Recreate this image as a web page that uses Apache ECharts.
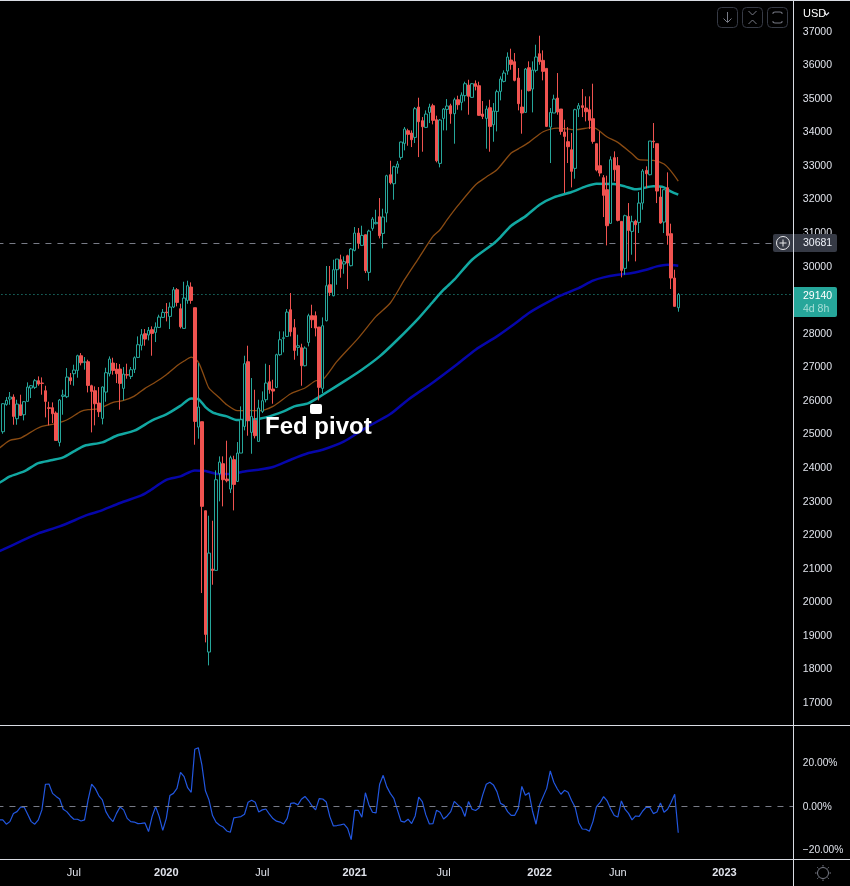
<!DOCTYPE html>
<html>
<head>
<meta charset="utf-8">
<title>Fed pivot</title>
<script src="https://cdn.jsdelivr.net/npm/echarts@6/dist/echarts.min.js"></script>
<style>
html, body { margin: 0; padding: 0; background: #000; }
#container { width: 850px; height: 886px; }
</style>
</head>
<body>
<div id="container"></div>
<script>
// weekly candles
var opens = [25054,25868,26027,26087,25441,25858,25560,25957,26355,26375,26573,26504,26275,25769,25769,25610,24736,26106,26096,26663,26782,26881,27318,27119,27139,26424,26275,25908,25451,26235,
26782,27100,26921,26921,26345,26752,26702,26911,27268,27626,27973,27934,28093,28013,28162,28460,28619,28490,28768,29284,28718,28132,28966,29364,28748,25193,25352,22700,18490,20963,
20923,23803,24101,23644,23346,24220,23574,24418,25213,27139,25034,25391,24766,25660,26007,26543,26325,26375,27348,27834,27894,28688,28152,27566,27556,27020,27715,28510,28510,28172,
26345,28361,29433,29106,29880,30178,30049,30297,30000,30456,30972,30605,30923,29801,31111,31250,31459,30962,31568,32710,32442,32929,33226,33644,34021,33951,33822,34726,34319,34120,
34567,34766,34349,33048,34388,34656,34766,34527,34944,34865,35064,35381,35014,35421,35361,34517,34388,34706,34200,34597,35193,35491,35799,36126,36077,35590,34726,34567,35898,35262,
35819,36315,36116,35878,34130,34548,34994,34667,33981,33694,33455,32899,34667,34766,34696,34647,34379,33634,32979,32621,32264,31261,33217,32979,31320,29920,31469,31022,31330,31290,
31866,32839,32710,33713,33634,32045,31300,32323,30953,29632,28748];
var closes = [25888,25987,26087,25511,25878,25540,25948,26385,26424,26573,26474,26494,25957,25749,25590,24796,25997,26146,26682,26573,26891,27318,27109,27139,26434,26255,25888,25650,26385,26812,
27219,26881,26782,26494,26772,26742,26901,27258,27646,27944,27814,28073,27983,28172,28470,28609,28599,28768,29284,28907,28182,29036,29403,28966,25362,25789,22830,19016,21439,20923,
23624,24150,23624,23594,24279,23485,24418,25411,27080,25391,25511,24935,25759,25977,26504,26305,26265,27348,27795,27854,28619,28033,27477,27616,27020,27546,28510,28390,28142,26375,
28212,29403,29205,29880,30198,29910,30118,30079,30496,30972,30675,30903,29850,31032,31389,31290,30893,31449,32680,32472,32948,33028,33683,34071,33912,33753,34676,34289,34140,34517,
34726,34329,33127,34339,34666,34756,34527,34944,34795,35083,35421,35044,35421,35342,34478,34448,34666,34150,34607,35183,35560,35739,36216,35997,35521,34826,34548,35858,35213,35828,
36216,36077,35789,34150,34567,34965,34577,34001,33852,33545,32810,34647,34766,34716,34587,34329,33703,32849,32760,32095,31191,33157,32859,31350,29860,31489,31052,31310,31221,31866,
32820,32740,33713,33693,32224,31271,32263,30903,29632,28788,29140];
var lows = [24994,25829,25858,25262,25262,25530,25391,25957,26057,26325,26424,26156,25481,25243,25312,24796,24617,25560,26057,26454,26424,26663,27030,26901,26225,25034,25243,25491,25272,25948,
26702,26752,26504,25709,25987,26633,26623,26802,27248,27477,27616,27775,27318,27725,28142,28440,28341,28112,28738,28788,28132,28132,28867,28867,24667,24845,20248,18778,18093,20496,
20923,22979,22830,23545,23227,22710,23555,24418,25094,24935,24398,24855,24766,25610,25928,26186,25888,26355,27318,27417,27874,27894,27199,27318,26424,27000,27596,28142,27894,25987,
26206,28340,29100,29086,29433,29642,29761,29304,29980,30426,30506,30595,29781,29552,31042,31230,30813,30516,31290,32422,31965,32740,33157,33435,33574,33534,33654,33236,33395,34100,
34249,34210,33078,32929,34031,34031,34229,33634,34646,34627,34895,34498,35004,35222,34468,34368,33485,33395,33693,34001,34925,35461,35689,35838,35491,34627,33932,34548,35193,34567,
35759,35987,35521,34130,33058,34548,34498,33902,32164,33058,32333,32591,34428,34428,34299,34071,33634,32810,32661,31449,30605,31251,32512,31320,29652,29731,30129,30327,30129,30973,
31668,32313,32691,33505,31866,31251,30973,30625,29305,28788,28629];
var highs = [25908,26086,26236,26166,26007,26156,25968,26524,26444,26623,26702,26672,26424,25948,25928,25660,26027,26305,26950,26802,27050,27348,27397,27278,27199,26454,26404,26384,26404,26960,
27298,27258,27100,27070,26980,27080,26980,27298,27894,28112,28112,28172,28192,28311,28539,28708,28887,28907,29363,29334,28867,29522,29552,29503,28748,27100,25352,22700,22552,22403,
23902,24319,24319,24786,24339,24339,24746,25809,27318,27616,26653,26305,26007,26255,27080,27040,26603,27378,28043,28043,28708,29185,28410,27944,27675,27596,28569,28837,28638,28172,
28460,29990,29990,30178,30198,30327,30277,30327,30526,31151,31121,31191,30923,31072,31449,31667,32015,31697,32710,33127,32978,33117,33693,34130,34080,34031,34726,35004,34428,34627,
34825,34825,34468,34368,34696,34964,34825,35004,35064,35163,35481,35540,35441,35520,35481,34905,34766,34944,34845,35243,35640,35819,36355,36464,36335,35888,35243,35888,36087,36087,
36583,36851,36414,35878,34696,35094,35739,34667,34349,34130,33952,34677,34845,35262,35044,35044,35421,33634,34001,32700,32681,33257,33406,33237,31320,31519,31866,31489,31370,32194,
32879,32959,33713,34250,33634,32343,32283,32780,31251,29880,29185];

// moving averages, [bar, value] where the curve was read; bar -1 is the week cut by the left edge
var ma50 = [[-1,24560],[0,24647],[2,24796],[5,24865],[9,25113],[11,25213],[14,25272],[17,25362],[19,25461],[22,25660],[24,25709],[27,25739],[31,25928],[34,25987],[37,26116],[40,26345],[43,26533],[46,26752],[49,27020],[51,27159],[53,27278],[55,27129],[57,26603],[58,26355],[61,26057],[63,25858],[66,25680],[69,25689],[72,25680],[76,25809],[81,26186],[85,26355],[88,26573],[90,26603],[94,27149],[100,27844],[105,28490],[109,28888],[113,29583],[117,30228],[121,30874],[123,31072],[125,31370],[128,31787],[133,32412],[136,32641],[139,32859],[143,33356],[145,33480],[148,33674],[152,33991],[156,34101],[161,34051],[166,34120],[170,33833],[173,33674],[177,33336],[179,33157],[183,33137],[186,33028],[188,32810],[190,32522]];
var ma100 = [[-1,23530],[0,23594],[2,23723],[6,23872],[10,24120],[14,24210],[17,24289],[20,24468],[23,24637],[28,24736],[32,24935],[37,25084],[42,25391],[46,25570],[50,25829],[53,26047],[55,26027],[57,25789],[59,25630],[61,25560],[63,25511],[66,25401],[70,25411],[74,25481],[79,25660],[82,25809],[86,25908],[90,26156],[96,26553],[101,26901],[106,27298],[111,27794],[117,28440],[121,28927],[124,29284],[127,29582],[132,30178],[138,30655],[140,30853],[143,31191],[147,31469],[151,31817],[155,32035],[160,32194],[164,32363],[167,32442],[172,32432],[175,32363],[178,32274],[183,32363],[186,32333],[188,32204],[190,32115]];
var ma200 = [[-1,21490],[0,21539],[5,21787],[10,22026],[16,22233],[24,22582],[27,22680],[33,22930],[39,23157],[41,23276],[46,23620],[50,23723],[54,23902],[57,23882],[60,23803],[64,23793],[68,23872],[72,23922],[76,24001],[81,24220],[86,24418],[90,24518],[96,24766],[102,25163],[109,25580],[114,26007],[121,26523],[128,27080],[133,27497],[139,27894],[144,28271],[148,28589],[152,28838],[157,29116],[162,29334],[166,29553],[169,29652],[173,29731],[177,29781],[181,29880],[184,29980],[187,30029],[190,30000]];

// lower pane, percent
var oscillator = [-6.4,-8.4,-7.2,-3.5,-2.6,-0.5,-0.5,-3.8,-7.2,-8.4,-6.4,-1.8,10.0,10.1,5.8,4.4,3.2,-1.5,-2.6,-4.6,-6.1,-6.1,-6.9,-6.4,2.8,10.0,8.1,4.8,2.8,-2.6,
-5.4,-7.2,-3.4,-0.5,-1.8,-5.7,-7.2,-7.4,-8.1,-8.0,-7.8,-11.8,-4.9,-0.3,-4.9,-11.2,-5.7,4.8,5.8,8.1,15.5,13.5,8.4,6.3,26.1,26.8,18.9,7.0,2.8,-4.4,
-7.5,-8.9,-9.7,-11.5,-12.1,-5.5,-5.2,-4.9,-3.8,1.7,2.6,1.7,-2.8,-1.8,-1.4,-3.8,-5.8,-7.0,-7.4,-8.3,-5.7,1.2,1.4,0.5,3.1,4.4,2.5,0,-1.8,3.4,
3.2,1.8,-4.9,-9.2,-9.0,-8.7,-8.3,-10.3,-15.5,-2.0,-2.0,-5.2,6.1,0.5,-2.9,-3.2,10.0,14.1,8.9,5.8,3.5,-1.8,-7.0,-7.4,-6.1,-8.1,-4.6,4.1,2.0,-4.1,
-8.3,-8.1,-2.0,-2.9,-6.0,-4.6,-2.6,2.1,0.5,-0.8,-4.8,2.0,-1.5,-2.1,-0.8,5.1,10.0,10.9,9.7,6.6,1.2,0.3,-2.6,-4.3,-4.3,-1.1,9.0,4.9,6.1,-2.3,
-8.4,0.5,4.3,8.1,16.1,10.9,7.8,5.4,7.2,6.3,2.5,-0.6,-7.7,-10.6,-10.7,-11.6,-7.2,-0.3,1.5,4.3,2.3,-1.4,-4.4,-5.1,2.3,-1.4,-3.4,-6.4,-4.6,-4.8,
-2.3,-0.5,-0.6,-3.5,-2.8,1.4,-2.9,-1.5,1.7,5.4,-12.3];
var oscillatorLead = -6.4; // week cut by the left edge

var priceTicks = [17000,18000,19000,20000,21000,22000,23000,24000,25000,26000,27000,28000,29000,30000,31000,32000,33000,34000,35000,36000,37000];
var pctTicks = [-20,0,20];
var tickBars = [20,46,73,99,124,151,173,203];
var tickNames = ['Jul','2020','Jul','2021','Jul','2022','Jun','2023'];
var alertPrice = 30681;
var lastPrice = 29140;

var SLOTS = 224; // one hidden week at the left edge, then empty weeks to the right
var LEAD = 1;
var bg = '#000000', up = '#26a69a', down = '#f05350', lineCol = '#d9dce3', textCol = '#e0e3eb', chrome = '#363a45', iconCol = '#787b86';
var font = '"Liberation Sans", Arial, sans-serif';

var categories = [];
var d0 = Date.UTC(2019, 1, 4);
for (var i = 0; i < SLOTS; i++) {
    categories.push(new Date(d0 + i * 7 * 86400000).toISOString().slice(0, 10));
}
var candles = ['-'];
for (var j = 0; j < opens.length; j++) {
    candles.push([opens[j], closes[j], lows[j], highs[j]]);
}

function maSeries(name, data, color, width) {
    return {
        name: name, type: 'line', xAxisIndex: 0, yAxisIndex: 0,
        data: data.map(function (p) { return [p[0] + LEAD, p[1]]; }),
        showSymbol: false, symbol: 'none', z: 2, silent: true, smooth: 0.25,
        lineStyle: { color: color, width: width }
    };
}

var myChart = echarts.init(document.getElementById('container'), null, { renderer: 'canvas' });

var option = {
    animation: false,
    backgroundColor: bg,
    textStyle: { fontFamily: font },
    grid: [
        { left: -2.555, top: 0, width: 796.355, height: 725, outerBoundsMode: 'none' },
        { left: -2.555, top: 726, width: 796.355, height: 133, outerBoundsMode: 'none' }
    ],
    xAxis: [
        { type: 'category', gridIndex: 0, data: categories, axisLine: { show: false }, axisTick: { show: false }, axisLabel: { show: false }, splitLine: { show: false } },
        {
            type: 'category', gridIndex: 1, data: categories, axisLine: { show: false }, axisTick: { show: false }, splitLine: { show: false },
            axisLabel: {
                color: textCol, fontSize: 11, fontFamily: font, margin: 8,
                interval: function (index) { return tickBars.indexOf(index - LEAD) >= 0; },
                formatter: function (value, index) {
                    var name = tickNames[tickBars.indexOf(index - LEAD)];
                    return /^\d/.test(name) ? '{yr|' + name + '}' : name;
                },
                rich: { yr: { fontWeight: 'bold', fontSize: 11, color: textCol, fontFamily: font } }
            }
        }
    ],
    yAxis: [
        {
            type: 'value', gridIndex: 0, position: 'right', min: 16317, max: 37915, scale: true,
            axisLine: { show: false }, axisTick: { show: false }, splitLine: { show: false },
            axisLabel: { color: textCol, fontSize: 10.5, fontFamily: font, margin: 9, align: 'left', verticalAlign: 'top', lineHeight: 12, padding: [-5, 0, 0, 0], customValues: priceTicks, formatter: function (v) { return String(v); } }
        },
        {
            type: 'value', gridIndex: 1, position: 'right', min: -24.4, max: 36.8,
            axisLine: { show: false }, axisTick: { show: false }, splitLine: { show: false },
            axisLabel: { color: textCol, fontSize: 10.2, fontFamily: font, margin: 9, align: 'left', verticalAlign: 'top', lineHeight: 12, padding: [-5, 0, 0, 0], customValues: pctTicks, formatter: function (v) { return (v < 0 ? '\u2212' + (-v).toFixed(2) : v.toFixed(2)) + '%'; } }
        }
    ],
    series: [
        maSeries('MA50', ma50, '#8a4b12', 1.3),
        maSeries('MA100', ma100, '#12a8a2', 2.5),
        maSeries('MA200', ma200, '#0606aa', 2.5),
        {
            name: 'Price', type: 'candlestick', data: candles, xAxisIndex: 0, yAxisIndex: 0, barWidth: 3, z: 3, silent: true,
            itemStyle: { color: bg, color0: down, borderColor: up, borderColor0: down, borderWidth: 1 },
            markLine: {
                silent: true, symbol: 'none', animation: false, label: { show: false }, z: 1,
                data: [
                    { yAxis: alertPrice, lineStyle: { color: iconCol, type: [6, 6], width: 1 } },
                    { yAxis: lastPrice, lineStyle: { color: up, type: [1, 3], width: 1 } }
                ]
            }
        },
        {
            name: 'Oscillator', type: 'line', data: [oscillatorLead].concat(oscillator), xAxisIndex: 1, yAxisIndex: 1, showSymbol: false, symbol: 'none', silent: true,
            lineStyle: { color: '#2257e0', width: 1.2 },
            markLine: {
                silent: true, symbol: 'none', animation: false, label: { show: false },
                data: [{ yAxis: 0, lineStyle: { color: iconCol, type: [6, 6], width: 1 } }]
            }
        }
    ]
};
myChart.setOption(option);

// chrome and annotations on top of the chart
function hline(y) { return { type: 'line', shape: { x1: 0, y1: y, x2: 850, y2: y }, style: { stroke: lineCol, lineWidth: 1 }, z: 20 }; }
function button(x, w) { return { type: 'rect', shape: { x: x, y: 7.5, width: w, height: 20, r: 4 }, style: { fill: bg, stroke: chrome, lineWidth: 1 }, z: 20 }; }
function stroke(points, col, w) { return { type: 'polyline', shape: { points: points }, style: { fill: null, stroke: col || iconCol, lineWidth: w || 1 }, z: 21 }; }
function label(text, x, y, size, fill, weight, align) {
    return { type: 'text', x: x, y: y, z: 22, style: { text: text, fontFamily: font, fontSize: size, fontWeight: weight || 'normal', fill: fill, textAlign: align || 'center', textVerticalAlign: 'middle' } };
}

var alertY = Math.round(myChart.convertToPixel({ yAxisIndex: 0 }, alertPrice));
var lastY = Math.round(myChart.convertToPixel({ yAxisIndex: 0 }, lastPrice));
var gx = 823, gy = 873;
var gearTicks = [[0, -8, 0, -6.5], [0, 6.5, 0, 8], [-8, 0, -6.5, 0], [6.5, 0, 8, 0], [-5.7, -5.7, -4.6, -4.6], [5.7, -5.7, 4.6, -4.6], [-5.7, 5.7, -4.6, 4.6], [5.7, 5.7, 4.6, 4.6]];

var parts = [
    hline(0.5), hline(725.5), hline(859.5),
    { type: 'line', shape: { x1: 793.5, y1: 0, x2: 793.5, y2: 886 }, style: { stroke: lineCol, lineWidth: 1 }, z: 20 },
    // top right buttons
    button(717.5, 20), button(742.5, 20), button(767.5, 20),
    stroke([[727.5, 12], [727.5, 22]]), stroke([[723.5, 18.5], [727.5, 22.5], [731.5, 18.5]]),
    stroke([[748.5, 11], [752.5, 15], [756.5, 11]]), stroke([[748.5, 24], [752.5, 20], [756.5, 24]]),
    stroke([[773, 14], [773, 12.5], [775, 12], [780, 12], [782, 12.5], [782, 14]]), stroke([[773, 21], [773, 22.5], [775, 23], [780, 23], [782, 22.5], [782, 21]]),
    label('USD', 803, 14, 11, '#ffffff', 'normal', 'left'),
    stroke([[824, 12.5], [826.5, 15], [829, 12.5]], textCol, 1.2),
    // alert level tag
    { type: 'rect', shape: { x: 773, y: alertY - 9, width: 20, height: 18, r: [2, 0, 0, 2] }, style: { fill: chrome }, z: 20 },
    { type: 'circle', shape: { cx: 783, cy: alertY, r: 6.5 }, style: { fill: null, stroke: '#e8e8ea', lineWidth: 1 }, z: 21 },
    stroke([[779.5, alertY], [786.5, alertY]], '#e8e8ea'), stroke([[783, alertY - 3.5], [783, alertY + 3.5]], '#e8e8ea'),
    { type: 'rect', shape: { x: 794, y: alertY - 9, width: 43, height: 18, r: [0, 2, 2, 0] }, style: { fill: chrome }, z: 20 },
    label(String(alertPrice), 803, alertY + 0.5, 10.5, '#f0f3fa', 'normal', 'left'),
    // last price tag
    { type: 'rect', shape: { x: 794, y: lastY - 8, width: 43, height: 30, r: [0, 2, 2, 0] }, style: { fill: up }, z: 20 },
    label(String(lastPrice), 803, lastY + 1, 10.5, '#ffffff', 'normal', 'left'),
    label('4d 8h', 803, lastY + 14, 10.5, '#a8ded8', 'normal', 'left'),
    // annotation
    { type: 'rect', shape: { x: 310, y: 404, width: 12, height: 10, r: 2 }, style: { fill: '#ffffff' }, z: 20 },
    label('Fed pivot', 265, 427, 24, '#ffffff', 'bold', 'left'),
    // settings icon
    { type: 'circle', shape: { cx: gx, cy: gy, r: 5.5 }, style: { fill: null, stroke: iconCol, lineWidth: 1 }, z: 21 }
];
gearTicks.forEach(function (t) {
    parts.push(stroke([[gx + t[0], gy + t[1]], [gx + t[2], gy + t[3]]]));
});
myChart.setOption({ graphic: { elements: parts } });
</script>
</body>
</html>
